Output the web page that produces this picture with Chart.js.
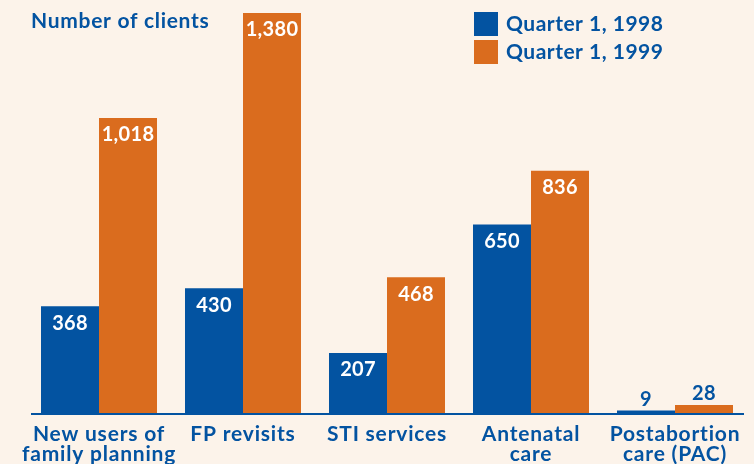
<!DOCTYPE html>
<html>
<head>
<meta charset="utf-8">
<script src="https://cdn.jsdelivr.net/npm/chart.js@4.4.1/dist/chart.umd.min.js"></script>
<style>
  html, body { margin: 0; padding: 0; background: #fcf3ea; }
  #wrap { width: 754px; height: 464px; position: relative; }
</style>
</head>
<body>
<div id="wrap"><canvas id="c" width="754" height="464"></canvas></div>
<script>
const categories = [
  ["New users of", "family planning"],
  ["FP revisits"],
  ["STI services"],
  ["Antenatal", "care"],
  ["Postabortion", "care (PAC)"]
];
const seriesNames = ["Quarter 1, 1998", "Quarter 1, 1999"];
const q1998 = [368, 430, 207, 650, 9];
const q1999 = [1018, 1380, 468, 836, 28];
const yAxisTitle = "Number of clients";

const BLUE = "#0353a1";
const ORANGE = "#da6c1e";
const FONT = "Lato";

function setSpacing(ctx, px) {
  if ("letterSpacing" in ctx) ctx.letterSpacing = px + "px";
}

const labelsPlugin = {
  id: "customLabels",
  afterDatasetsDraw(chart) {
    const ctx = chart.ctx;
    const xs = chart.scales.x, ys = chart.scales.y;
    ctx.save();
    // baseline
    const y0 = ys.getPixelForValue(0);
    ctx.strokeStyle = BLUE;
    ctx.lineWidth = 2;
    ctx.beginPath();
    ctx.moveTo(31, y0 + 1);
    ctx.lineTo(744, y0 + 1);
    ctx.stroke();
    // value labels
    chart.data.datasets.forEach((ds, di) => {
      const meta = chart.getDatasetMeta(di);
      meta.data.forEach((bar, i) => {
        const v = ds.data[i];
        const txt = v.toLocaleString("en-US");
        ctx.textAlign = "center";
        ctx.textBaseline = "middle";
        ctx.font = "bold 20px " + FONT;
        setSpacing(ctx, 0.3);
        if (v < 100) {
          ctx.fillStyle = BLUE;
          ctx.fillText(txt, bar.x, bar.y - 11);
        } else {
          ctx.fillStyle = "#ffffff";
          ctx.fillText(txt, bar.x, bar.y + 17);
        }
      });
    });
    // category labels
    ctx.fillStyle = BLUE;
    ctx.font = "bold 21px " + FONT;
    setSpacing(ctx, 0.8);
    ctx.textAlign = "center";
    ctx.textBaseline = "middle";
    chart.data.labels.forEach((lab, i) => {
      const x = xs.getPixelForValue(i);
      const lines = Array.isArray(lab) ? lab : [lab];
      lines.forEach((ln, k) => ctx.fillText(ln, x, 434 + k * 20));
    });
    // y title
    ctx.textAlign = "left";
    ctx.font = "bold 21px " + FONT;
    setSpacing(ctx, 0.7);
    ctx.fillText(yAxisTitle, 31, 21);
    // legend
    chart.data.datasets.forEach((ds, di) => {
      const top = 12 + di * 28;
      ctx.fillStyle = ds.backgroundColor;
      ctx.fillRect(474, top, 24, 24);
      ctx.fillStyle = BLUE;
      ctx.font = "bold 21px " + FONT;
      setSpacing(ctx, 0.5);
      ctx.textAlign = "left";
      ctx.fillText(ds.label, 506, top + 12);
    });
    ctx.restore();
  }
};

new Chart(document.getElementById("c"), {
  type: "bar",
  data: {
    labels: categories,
    datasets: [
      { label: seriesNames[0], data: q1998, backgroundColor: BLUE },
      { label: seriesNames[1], data: q1999, backgroundColor: ORANGE }
    ]
  },
  options: {
    responsive: false,
    animation: false,
    devicePixelRatio: 1,
    layout: { padding: { left: 27, right: 7, top: 13, bottom: 51 } },
    datasets: { bar: { categoryPercentage: 0.8056, barPercentage: 1.0 } },
    scales: {
      x: { display: false },
      y: { display: false, min: 0, max: 1380 }
    },
    plugins: { legend: { display: false }, tooltip: { enabled: false } }
  },
  plugins: [labelsPlugin]
});
</script>
</body>
</html>
